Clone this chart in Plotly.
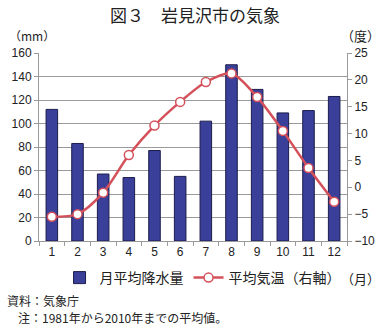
import plotly.graph_objects as go

months = [str(i) for i in range(1, 13)]
precip_mm = [112, 83, 57, 54, 77, 55, 102, 150, 129, 109, 111, 123]
temp_c = [-5.5, -5.0, -1.0, 6.0, 11.5, 15.9, 19.6, 21.2, 16.8, 10.5, 3.6, -2.7]

W, H = 387, 328
L, R, T, B = 35, 37, 53, 87
pw, ph = W - L - R, H - T - B

def px(x):
    return (x - L) / pw

def py(y):
    return (H - B - y) / ph

FONT = "Noto Sans CJK JP"
GRAY = "#9a9a9a"

fig = go.Figure()
fig.add_trace(go.Bar(
    x=months, y=precip_mm, name="月平均降水量",
    marker=dict(color="#3a3f99", line=dict(color="#1c1c4c", width=1)),
    width=0.45, yaxis="y",
))
fig.add_trace(go.Scatter(
    x=months, y=temp_c, name="平均気温（右軸）", yaxis="y2",
    mode="lines+markers",
    line=dict(color="#d4505a", width=2.5, shape="spline", smoothing=0.8),
    marker=dict(color="white", size=9, line=dict(color="#d4505a", width=1.5)),
))

fig.update_layout(
    width=W, height=H,
    margin=dict(l=L, r=R, t=T, b=B),
    paper_bgcolor="white", plot_bgcolor="white",
    font=dict(family=FONT, size=12, color="#222"),
    showlegend=True,
    legend=dict(orientation="h", x=px(56), y=py(278), xanchor="left", yanchor="middle",
                font=dict(size=14, family=FONT), itemwidth=30, bgcolor="rgba(0,0,0,0)",
                traceorder="normal", tracegroupgap=0),
    bargap=0.55,
    xaxis=dict(type="category", range=[-0.5, 11.5], showline=True, linecolor=GRAY,
               ticks="outside", tickson="boundaries", ticklen=4, tickcolor=GRAY,
               showgrid=False, tickfont=dict(size=12, family="Liberation Sans")),
    yaxis=dict(range=[0, 160], dtick=20, showline=True, linecolor=GRAY, ticks="outside",
               ticklen=4, tickcolor=GRAY, gridcolor=GRAY, gridwidth=1, zeroline=False,
               tickfont=dict(size=12, family="Liberation Sans")),
    yaxis2=dict(range=[-10, 25], dtick=5, overlaying="y", side="right", showline=True,
                linecolor=GRAY, ticks="outside", ticklen=4, tickcolor=GRAY,
                showgrid=False, zeroline=False,
                tickfont=dict(size=12, family="Liberation Sans")),
    annotations=[
        dict(text="図３　岩見沢市の気象", x=px(195), y=py(14), xref="paper", yref="paper",
             xanchor="center", yanchor="middle", showarrow=False, font=dict(size=17, family=FONT)),
        dict(text="（mm）", x=px(2), y=py(36), xref="paper", yref="paper",
             xanchor="left", yanchor="middle", showarrow=False, font=dict(size=12, family=FONT)),
        dict(text="（度）", x=px(386), y=py(36), xref="paper", yref="paper",
             xanchor="right", yanchor="middle", showarrow=False, font=dict(size=13, family=FONT)),
        dict(text="（月）", x=px(386), y=py(278), xref="paper", yref="paper",
             xanchor="right", yanchor="middle", showarrow=False, font=dict(size=13, family=FONT)),
        dict(text="資料：気象庁", x=px(0), y=py(300), xref="paper", yref="paper",
             xanchor="left", yanchor="middle", showarrow=False, font=dict(size=12, family=FONT)),
        dict(text="注：1981年から2010年までの平均値。", x=px(11), y=py(317), xref="paper", yref="paper",
             xanchor="left", yanchor="middle", showarrow=False, font=dict(size=12, family=FONT)),
    ],
)

fig.write_html("out.html")
